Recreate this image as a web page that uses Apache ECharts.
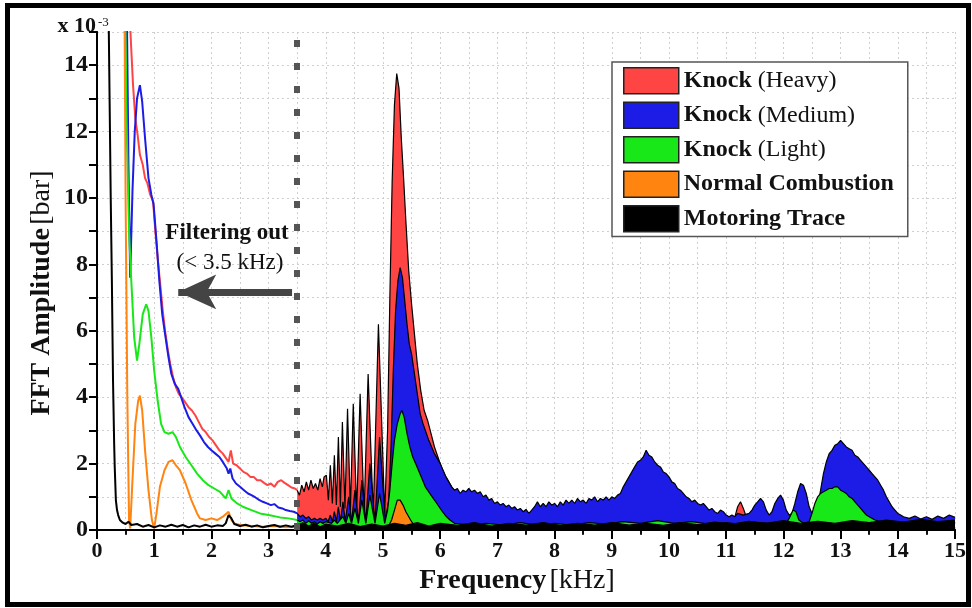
<!DOCTYPE html>
<html>
<head>
<meta charset="utf-8">
<script src="https://cdn.jsdelivr.net/npm/echarts@6/dist/echarts.min.js"></script>
<style>
  html, body { margin: 0; padding: 0; background: #fff; }
  #fft-chart { width: 972px; height: 608px; }
</style>
</head>
<body>
<div id="fft-chart"></div>
<script>
// legend entries, in drawing order (back -> front)
const seriesNames = ['Knock (Heavy)', 'Knock (Medium)', 'Knock (Light)', 'Normal Combustion', 'Motoring Trace']

// [frequency kHz, amplitude x1e-3 bar] below the 3.5 kHz cut (drawn as lines)
const heavyLow = [[0.56, 16], [0.59, 14.8], [0.63, 13.4], [0.67, 12.4], [0.71, 11.9], [0.75, 11.3], [0.8, 11.0], [0.84, 10.6], [0.88, 10.45], [0.93, 10.1], [0.98, 9.9], [1.02, 9.0], [1.06, 8.2], [1.1, 7.5], [1.15, 6.6], [1.19, 6.0], [1.24, 5.4], [1.28, 5.0], [1.33, 4.6], [1.38, 4.3], [1.43, 4.1], [1.48, 4.0], [1.54, 3.85], [1.6, 3.7], [1.66, 3.6], [1.72, 3.45], [1.78, 3.25], [1.84, 3.05], [1.9, 2.95], [1.96, 2.8], [2.02, 2.7], [2.08, 2.55], [2.14, 2.4], [2.2, 2.3], [2.26, 2.15], [2.3, 2.05], [2.34, 2.4], [2.38, 2.0], [2.44, 1.95], [2.5, 1.85], [2.56, 1.75], [2.62, 1.7], [2.68, 1.6], [2.74, 1.6], [2.8, 1.5], [2.86, 1.5], [2.92, 1.42], [2.98, 1.35], [3.04, 1.4], [3.1, 1.3], [3.16, 1.45], [3.22, 1.5], [3.28, 1.42], [3.34, 1.35], [3.4, 1.28], [3.46, 1.25], [3.5, 1.2]]
const mediumLow = [[0.52, 16], [0.55, 11], [0.58, 7.6], [0.62, 10.2], [0.66, 12.0], [0.7, 13.0], [0.75, 13.4], [0.79, 12.9], [0.84, 11.8], [0.9, 10.6], [0.95, 10.1], [0.99, 9.8], [1.04, 8.7], [1.09, 7.5], [1.14, 6.5], [1.19, 5.9], [1.25, 5.2], [1.3, 4.7], [1.36, 4.4], [1.42, 4.25], [1.47, 4.0], [1.53, 3.7], [1.6, 3.4], [1.67, 3.2], [1.74, 3.0], [1.8, 2.85], [1.87, 2.65], [1.94, 2.5], [2.0, 2.4], [2.07, 2.3], [2.14, 2.2], [2.2, 2.05], [2.27, 1.85], [2.3, 1.7], [2.33, 1.85], [2.37, 1.55], [2.43, 1.4], [2.5, 1.3], [2.57, 1.2], [2.64, 1.1], [2.7, 1.05], [2.77, 0.98], [2.84, 0.9], [2.9, 0.85], [2.97, 0.8], [3.04, 0.75], [3.1, 0.78], [3.17, 0.68], [3.24, 0.65], [3.3, 0.6], [3.37, 0.57], [3.44, 0.55], [3.5, 0.5]]
const lightLow = [[0.49, 16], [0.52, 12], [0.56, 9], [0.6, 7.5], [0.65, 5.8], [0.7, 5.1], [0.74, 5.6], [0.8, 6.5], [0.86, 6.8], [0.9, 6.6], [0.95, 5.8], [1.0, 4.8], [1.06, 3.9], [1.12, 3.2], [1.18, 2.95], [1.25, 2.9], [1.32, 2.95], [1.38, 2.8], [1.45, 2.5], [1.55, 2.2], [1.65, 1.95], [1.75, 1.7], [1.85, 1.5], [1.95, 1.35], [2.05, 1.25], [2.15, 1.15], [2.25, 0.95], [2.3, 1.2], [2.35, 0.95], [2.45, 0.8], [2.55, 0.7], [2.7, 0.6], [2.85, 0.5], [3.0, 0.45], [3.2, 0.38], [3.35, 0.35], [3.5, 0.3]]
const normalLow = [[0.48, 16], [0.5, 10], [0.53, 4], [0.56, 0.3], [0.58, 0.05], [0.62, 1.5], [0.67, 3.2], [0.72, 3.9], [0.75, 4.05], [0.79, 3.6], [0.84, 2.4], [0.9, 1.2], [0.96, 0.3], [1.0, 0.05], [1.04, 0.5], [1.1, 1.3], [1.18, 1.8], [1.25, 2.05], [1.32, 2.1], [1.38, 1.95], [1.45, 1.8], [1.55, 1.4], [1.65, 0.9], [1.75, 0.5], [1.8, 0.35], [1.9, 0.3], [2.0, 0.35], [2.1, 0.3], [2.2, 0.4], [2.3, 0.55], [2.35, 0.3], [2.4, 0.2], [2.5, 0.15], [2.7, 0.12], [2.9, 0.1], [3.1, 0.12], [3.3, 0.08], [3.5, 0.1]]
const motoringLow = [[0.2, 16], [0.22, 13], [0.24, 10], [0.26, 7.5], [0.28, 4.5], [0.3, 2.6], [0.31, 1.9], [0.33, 0.9], [0.35, 0.6], [0.37, 0.45], [0.4, 0.3], [0.45, 0.22], [0.5, 0.18], [0.55, 0.25], [0.6, 0.15], [0.7, 0.18], [0.8, 0.1], [0.9, 0.15], [1.0, 0.08], [1.1, 0.14], [1.2, 0.1], [1.3, 0.16], [1.4, 0.1], [1.5, 0.15], [1.6, 0.08], [1.7, 0.14], [1.8, 0.1], [1.9, 0.16], [2.0, 0.1], [2.1, 0.14], [2.2, 0.12], [2.25, 0.2], [2.3, 0.45], [2.35, 0.35], [2.4, 0.18], [2.5, 0.12], [2.6, 0.16], [2.7, 0.1], [2.8, 0.14], [2.9, 0.08], [3.0, 0.12], [3.1, 0.15], [3.2, 0.1], [3.3, 0.14], [3.4, 0.1], [3.5, 0.15]]

// above the cut (drawn as filled areas)
const heavyHigh = [[3.5, 1.2], [3.54, 1.05], [3.58, 1.35], [3.62, 1.15], [3.66, 1.45], [3.7, 1.2], [3.74, 1.5], [3.78, 1.25], [3.82, 1.4], [3.86, 1.2], [3.9, 1.55], [3.94, 1.3], [3.97, 1.6], [4.01, 1.65], [4.045, 0.9], [4.08, 1.95], [4.115, 0.8], [4.15, 2.25], [4.185, 0.75], [4.22, 2.8], [4.255, 0.7], [4.29, 3.25], [4.335, 0.65], [4.38, 3.65], [4.43, 0.6], [4.48, 3.8], [4.54, 0.55], [4.6, 4.1], [4.67, 0.5], [4.74, 4.7], [4.83, 0.45], [4.92, 6.2], [5.03, 0.5], [5.08, 3.0], [5.12, 7.0], [5.16, 10.5], [5.2, 12.8], [5.24, 13.75], [5.28, 13.3], [5.32, 11.8], [5.36, 10.6], [5.4, 9.3], [5.45, 7.8], [5.5, 6.8], [5.55, 5.9], [5.6, 5.0], [5.66, 4.2], [5.72, 3.6], [5.78, 3.3], [5.84, 2.9], [5.9, 2.5], [5.96, 2.2], [6.02, 1.9], [6.1, 1.6], [6.2, 1.3], [6.3, 1.05], [6.4, 0.95], [6.5, 0.9], [6.7, 0.85], [6.9, 0.7], [7.1, 0.6], [7.3, 0.45], [7.5, 0.4], [7.7, 0.5], [7.9, 0.55], [8.1, 0.6], [8.4, 0.65], [8.7, 0.75], [9.0, 0.8], [9.3, 0.95], [9.6, 1.05], [9.9, 0.95], [10.2, 0.8], [10.5, 0.6], [10.8, 0.45], [11.0, 0.35], [11.15, 0.38], [11.2, 0.7], [11.25, 0.85], [11.3, 0.65], [11.35, 0.4], [11.5, 0.35], [12.0, 0.3], [12.5, 0.3], [13.0, 0.4], [13.5, 0.35], [14.0, 0.3], [15.0, 0.25]]
const mediumHigh = [[3.5, 0.5], [3.55, 0.4], [3.6, 0.45], [3.65, 0.35], [3.7, 0.4], [3.75, 0.3], [3.8, 0.35], [3.85, 0.3], [3.9, 0.35], [3.95, 0.3], [4.0, 0.35], [4.04, 0.25], [4.08, 0.45], [4.115, 0.25], [4.15, 0.55], [4.185, 0.25], [4.22, 0.7], [4.255, 0.25], [4.3, 0.85], [4.34, 0.25], [4.4, 1.0], [4.45, 0.25], [4.51, 1.2], [4.57, 0.25], [4.63, 1.5], [4.7, 0.25], [4.77, 2.0], [4.86, 0.25], [4.94, 2.8], [5.04, 0.3], [5.1, 0.9], [5.14, 2.5], [5.18, 4.8], [5.22, 6.6], [5.26, 7.5], [5.3, 7.9], [5.34, 7.6], [5.38, 6.9], [5.42, 6.2], [5.46, 5.6], [5.5, 5.3], [5.55, 4.7], [5.6, 4.1], [5.65, 3.5], [5.7, 3.2], [5.75, 2.95], [5.8, 2.7], [5.85, 2.5], [5.9, 2.3], [5.95, 2.15], [6.0, 2.0], [6.05, 1.8], [6.1, 1.6], [6.15, 1.45], [6.2, 1.3], [6.25, 1.2], [6.3, 1.25], [6.35, 1.1], [6.4, 1.2], [6.45, 1.15], [6.5, 1.25], [6.55, 1.15], [6.6, 1.2], [6.65, 1.1], [6.7, 1.15], [6.75, 1.0], [6.8, 1.05], [6.85, 0.9], [6.9, 0.95], [6.95, 0.8], [7.0, 0.85], [7.05, 0.75], [7.1, 0.8], [7.15, 0.7], [7.2, 0.75], [7.25, 0.65], [7.3, 0.7], [7.35, 0.6], [7.4, 0.65], [7.45, 0.55], [7.5, 0.62], [7.55, 0.5], [7.6, 0.6], [7.65, 0.7], [7.7, 0.85], [7.75, 0.7], [7.8, 0.8], [7.85, 0.7], [7.9, 0.85], [7.95, 0.75], [8.0, 0.8], [8.05, 0.7], [8.1, 0.85], [8.15, 0.75], [8.2, 0.9], [8.25, 0.8], [8.3, 0.9], [8.35, 0.8], [8.4, 0.95], [8.45, 0.85], [8.5, 0.9], [8.55, 0.8], [8.6, 0.95], [8.65, 0.9], [8.7, 1.0], [8.75, 0.85], [8.8, 0.95], [8.85, 0.9], [8.9, 1.0], [8.95, 0.9], [9.0, 1.0], [9.05, 0.95], [9.1, 1.05], [9.15, 1.1], [9.2, 1.3], [9.25, 1.45], [9.3, 1.6], [9.35, 1.75], [9.4, 1.9], [9.45, 2.05], [9.5, 2.1], [9.55, 2.2], [9.6, 2.4], [9.65, 2.25], [9.7, 2.2], [9.75, 2.05], [9.8, 1.95], [9.85, 1.9], [9.9, 1.75], [9.95, 1.7], [10.0, 1.6], [10.05, 1.45], [10.1, 1.4], [10.15, 1.25], [10.2, 1.2], [10.25, 1.1], [10.3, 1.0], [10.35, 0.95], [10.4, 0.85], [10.45, 0.9], [10.5, 0.8], [10.55, 0.75], [10.6, 0.8], [10.65, 0.7], [10.7, 0.6], [10.75, 0.65], [10.8, 0.55], [10.85, 0.5], [10.9, 0.6], [10.95, 0.55], [11.0, 0.45], [11.05, 0.4], [11.1, 0.45], [11.15, 0.4], [11.2, 0.5], [11.3, 0.45], [11.4, 0.5], [11.45, 0.6], [11.5, 0.75], [11.55, 0.85], [11.6, 0.95], [11.65, 0.85], [11.7, 0.6], [11.75, 0.45], [11.8, 0.55], [11.85, 0.8], [11.9, 0.95], [11.95, 1.05], [12.0, 0.9], [12.05, 0.6], [12.1, 0.45], [12.15, 0.5], [12.2, 0.8], [12.25, 1.15], [12.3, 1.4], [12.35, 1.35], [12.4, 1.1], [12.45, 0.7], [12.5, 0.5], [12.55, 0.4], [12.6, 0.7], [12.65, 1.2], [12.7, 1.7], [12.75, 2.05], [12.8, 2.3], [12.85, 2.4], [12.9, 2.55], [12.95, 2.6], [13.0, 2.7], [13.05, 2.6], [13.1, 2.5], [13.15, 2.45], [13.2, 2.4], [13.25, 2.25], [13.3, 2.2], [13.35, 2.1], [13.4, 2.0], [13.45, 1.9], [13.5, 1.8], [13.55, 1.7], [13.6, 1.6], [13.65, 1.5], [13.7, 1.35], [13.75, 1.2], [13.8, 1.0], [13.85, 0.85], [13.9, 0.7], [13.95, 0.6], [14.0, 0.5], [14.05, 0.45], [14.1, 0.4], [14.2, 0.35], [14.3, 0.42], [14.4, 0.33], [14.5, 0.4], [14.6, 0.32], [14.7, 0.42], [14.8, 0.35], [14.9, 0.45], [15.0, 0.38]]
const lightHigh = [[3.5, 0.3], [3.55, 0.25], [3.6, 0.3], [3.65, 0.2], [3.7, 0.28], [3.75, 0.2], [3.8, 0.25], [3.85, 0.18], [3.9, 0.25], [3.95, 0.2], [4.0, 0.25], [4.1, 0.2], [4.15, 0.3], [4.2, 0.2], [4.3, 0.4], [4.35, 0.2], [4.4, 0.5], [4.45, 0.2], [4.51, 0.65], [4.57, 0.2], [4.63, 0.9], [4.7, 0.2], [4.77, 1.05], [4.86, 0.2], [4.94, 1.1], [5.03, 0.2], [5.08, 0.6], [5.12, 1.2], [5.16, 2.0], [5.2, 2.7], [5.25, 3.2], [5.3, 3.5], [5.33, 3.6], [5.37, 3.4], [5.42, 2.9], [5.47, 2.5], [5.52, 2.2], [5.57, 2.0], [5.62, 1.8], [5.68, 1.55], [5.74, 1.3], [5.8, 1.15], [5.86, 1.0], [5.92, 0.85], [5.98, 0.7], [6.04, 0.55], [6.1, 0.42], [6.17, 0.3], [6.25, 0.2], [6.5, 0.15], [6.8, 0.2], [7.1, 0.15], [7.4, 0.22], [7.7, 0.15], [8.0, 0.2], [8.3, 0.15], [8.6, 0.22], [8.9, 0.18], [9.2, 0.25], [9.5, 0.2], [9.8, 0.28], [10.1, 0.2], [10.4, 0.25], [10.7, 0.18], [11.0, 0.22], [11.3, 0.16], [11.6, 0.22], [11.9, 0.18], [12.05, 0.2], [12.1, 0.35], [12.17, 0.6], [12.22, 0.55], [12.27, 0.3], [12.35, 0.2], [12.45, 0.25], [12.5, 0.5], [12.55, 0.8], [12.6, 1.0], [12.65, 1.1], [12.7, 1.15], [12.75, 1.2], [12.8, 1.25], [12.85, 1.25], [12.9, 1.3], [12.95, 1.3], [13.0, 1.2], [13.05, 1.15], [13.1, 1.1], [13.15, 1.0], [13.2, 0.95], [13.25, 0.85], [13.3, 0.75], [13.35, 0.65], [13.4, 0.55], [13.45, 0.45], [13.5, 0.4], [13.6, 0.3], [13.7, 0.25], [14.0, 0.22], [14.5, 0.25], [15.0, 0.2]]
const normalHigh = [[3.5, 0.1], [4.0, 0.08], [4.5, 0.1], [5.0, 0.08], [5.1, 0.12], [5.15, 0.3], [5.2, 0.6], [5.25, 0.9], [5.27, 0.96], [5.3, 0.9], [5.35, 0.75], [5.4, 0.55], [5.45, 0.4], [5.5, 0.25], [5.55, 0.12], [5.6, 0.08], [6.5, 0.1], [15.0, 0.08]]
const motoringHigh = [[3.5, 0.15], [3.6, 0.22], [3.7, 0.12], [3.8, 0.2], [3.9, 0.1], [4.0, 0.18], [4.2, 0.12], [4.4, 0.2], [4.6, 0.1], [4.8, 0.18], [5.0, 0.12], [5.2, 0.2], [5.4, 0.14], [5.6, 0.22], [5.8, 0.12], [6.0, 0.2], [6.3, 0.14], [6.6, 0.22], [6.9, 0.12], [7.2, 0.2], [7.5, 0.15], [7.8, 0.22], [8.1, 0.14], [8.4, 0.2], [8.7, 0.15], [9.0, 0.22], [9.3, 0.15], [9.6, 0.2], [9.9, 0.14], [10.2, 0.22], [10.5, 0.16], [10.8, 0.24], [11.1, 0.18], [11.4, 0.26], [11.7, 0.2], [12.0, 0.28], [12.3, 0.2], [12.6, 0.26], [12.9, 0.2], [13.2, 0.28], [13.5, 0.22], [13.8, 0.3], [14.1, 0.24], [14.4, 0.32], [14.7, 0.25], [15.0, 0.3]]

// filter cut-off and the arrow annotation (kHz, amplitude)
const cutOff = 3.5
const arrowFrom = [3.41, 7.17]
const arrowTo = [1.42, 7.17]

const colors = ['#ff4444', '#1c1ce6', '#18e818', '#ff8410', '#000000']
const lows = [heavyLow, mediumLow, lightLow, normalLow, motoringLow]
const highs = [heavyHigh, mediumHigh, lightHigh, normalHigh, motoringHigh]

const FONT = '"Liberation Serif", "Times New Roman", serif'
const INK = '#111'

const chart = echarts.init(document.getElementById('fft-chart'), null, {renderer: 'canvas'})

const series = []
highs.forEach((data, i) => {
  series.push({
    name: seriesNames[i],
    type: 'line',
    z: 2 + i,
    data: data,
    showSymbol: false,
    symbol: 'none',
    itemStyle: {color: colors[i]},
    lineStyle: {color: '#000', width: 1.2},
    areaStyle: {color: colors[i], opacity: 1}
  })
})
lows.forEach((data, i) => {
  series.push({
    name: 'low-' + i,
    type: 'line',
    z: 8,
    data: data,
    showSymbol: false,
    symbol: 'none',
    itemStyle: {color: colors[i]},
    lineStyle: {color: colors[i], width: 2}
  })
})
// dotted cut-off line and the "filtering out" arrow
series.push({
  name: 'annotations',
  type: 'line',
  z: 10,
  data: [],
  markLine: {
    silent: true,
    animation: false,
    z: 10,
    label: {show: false},
    symbol: 'none',
    data: [
      {xAxis: cutOff, lineStyle: {color: '#555', width: 6, type: [7, 16]}},
      [
        {coord: arrowFrom, symbol: 'none', lineStyle: {color: '#444', width: 7, type: 'solid'}},
        {coord: arrowTo, symbol: 'arrow', symbolSize: [26, 38]}
      ]
    ]
  }
})

const dotted = {color: '#cfcfcf', type: [2, 3], width: 1}

const option = {
  animation: false,
  grid: {left: 97, right: 17, top: 32, bottom: 78},
  legend: {
    orient: 'vertical',
    left: 612,
    top: 62,
    padding: [5, 14, 4, 11],
    itemGap: 7,
    itemWidth: 55,
    itemHeight: 26,
    backgroundColor: '#fff',
    borderColor: '#555',
    borderWidth: 1.5,
    selectedMode: false,
    textStyle: {
      fontFamily: FONT,
      fontSize: 24,
      color: INK,
      rich: {
        b: {fontFamily: FONT, fontSize: 24, fontWeight: 'bold', color: INK},
        n: {fontFamily: FONT, fontSize: 24, color: INK}
      }
    },
    formatter: (name) => {
      const k = name.indexOf(' (')
      if (k < 0) return '{b|' + name + '}'
      return '{b|' + name.slice(0, k) + '} {n|' + name.slice(k + 1) + '}'
    },
    data: seriesNames.map((n, i) => ({
      name: n,
      icon: 'rect',
      itemStyle: {color: colors[i], borderColor: '#222', borderWidth: 1.5}
    }))
  },
  xAxis: [
    {
      type: 'value',
      min: 0,
      max: 15,
      interval: 1,
      position: 'bottom',
      name: '{b|Frequency} {n|[kHz]}',
      nameLocation: 'middle',
      nameGap: 35,
      nameTextStyle: {
        padding: [0, 18, 0, 0],
        rich: {
          b: {fontFamily: FONT, fontSize: 28, fontWeight: 'bold', color: INK},
          n: {fontFamily: FONT, fontSize: 28, color: INK}
        }
      },
      axisLine: {lineStyle: {color: '#000', width: 2}},
      axisTick: {inside: false, length: 9, lineStyle: {color: '#000', width: 2}},
      minorTick: {show: true, splitNumber: 2, length: 5, lineStyle: {color: '#000', width: 1.5}},
      splitLine: {show: true, lineStyle: dotted},
      minorSplitLine: {show: true, lineStyle: dotted},
      axisLabel: {margin: 10, fontFamily: FONT, fontWeight: 'bold', fontSize: 22, color: INK}
    },
    {
      type: 'value',
      min: 0,
      max: 15,
      interval: 1,
      position: 'top',
      axisLine: {lineStyle: {color: '#000', width: 2}},
      axisTick: {inside: true, length: 8, lineStyle: {color: '#000', width: 2}},
      minorTick: {show: true, splitNumber: 2, length: 4, lineStyle: {color: '#000', width: 1.5}},
      splitLine: {show: false},
      axisLabel: {show: false}
    }
  ],
  yAxis: [
    {
      type: 'value',
      min: 0,
      max: 15,
      interval: 1,
      axisLine: {show: true, lineStyle: {color: '#000', width: 2}},
      axisTick: {show: true, inside: false, length: 6, lineStyle: {color: '#000', width: 2}},
      splitLine: {show: true, lineStyle: dotted},
      axisLabel: {
        margin: 9,
        showMaxLabel: false,
        fontFamily: FONT,
        fontWeight: 'bold',
        fontSize: 24,
        color: INK,
        formatter: (v) => (v % 2 === 0 ? String(v) : '')
      }
    },
    {
      type: 'value',
      min: 0,
      max: 15,
      interval: 1,
      position: 'right',
      axisLine: {show: true, lineStyle: {color: '#000', width: 2}},
      axisTick: {show: true, inside: true, length: 8, lineStyle: {color: '#000', width: 2}},
      splitLine: {show: false},
      axisLabel: {show: false}
    }
  ],
  graphic: [
    {
      type: 'rect',
      shape: {x: 7.5, y: 5.5, width: 961, height: 599},
      style: {fill: 'none', stroke: '#000', lineWidth: 5},
      silent: true
    },
    {
      type: 'text',
      x: 42,
      y: 293,
      rotation: Math.PI / 2,
      style: {
        text: '{b|FFT Amplitude} {n|[bar]}',
        align: 'center',
        verticalAlign: 'middle',
        fill: INK,
        rich: {
          b: {fontFamily: FONT, fontSize: 28, fontWeight: 'bold', fill: INK},
          n: {fontFamily: FONT, fontSize: 28, fill: INK}
        }
      }
    },
    {
      type: 'text',
      x: 96,
      y: 37,
      style: {text: 'x 10', font: 'bold 22px ' + FONT, fill: INK, align: 'right', verticalAlign: 'bottom'}
    },
    {
      type: 'text',
      x: 98,
      y: 16,
      style: {text: '-3', font: '13px ' + FONT, fill: INK, align: 'left', verticalAlign: 'top'}
    },
    {
      type: 'text',
      x: 227,
      y: 233,
      z: 100,
      style: {text: 'Filtering out', font: 'bold 23px ' + FONT, fill: INK, align: 'center', verticalAlign: 'middle'}
    },
    {
      type: 'text',
      x: 230,
      y: 263,
      z: 100,
      style: {text: '(< 3.5 kHz)', font: '23px ' + FONT, fill: INK, align: 'center', verticalAlign: 'middle'}
    }
  ],
  series: series
}

chart.setOption(option)
</script>
</body>
</html>
